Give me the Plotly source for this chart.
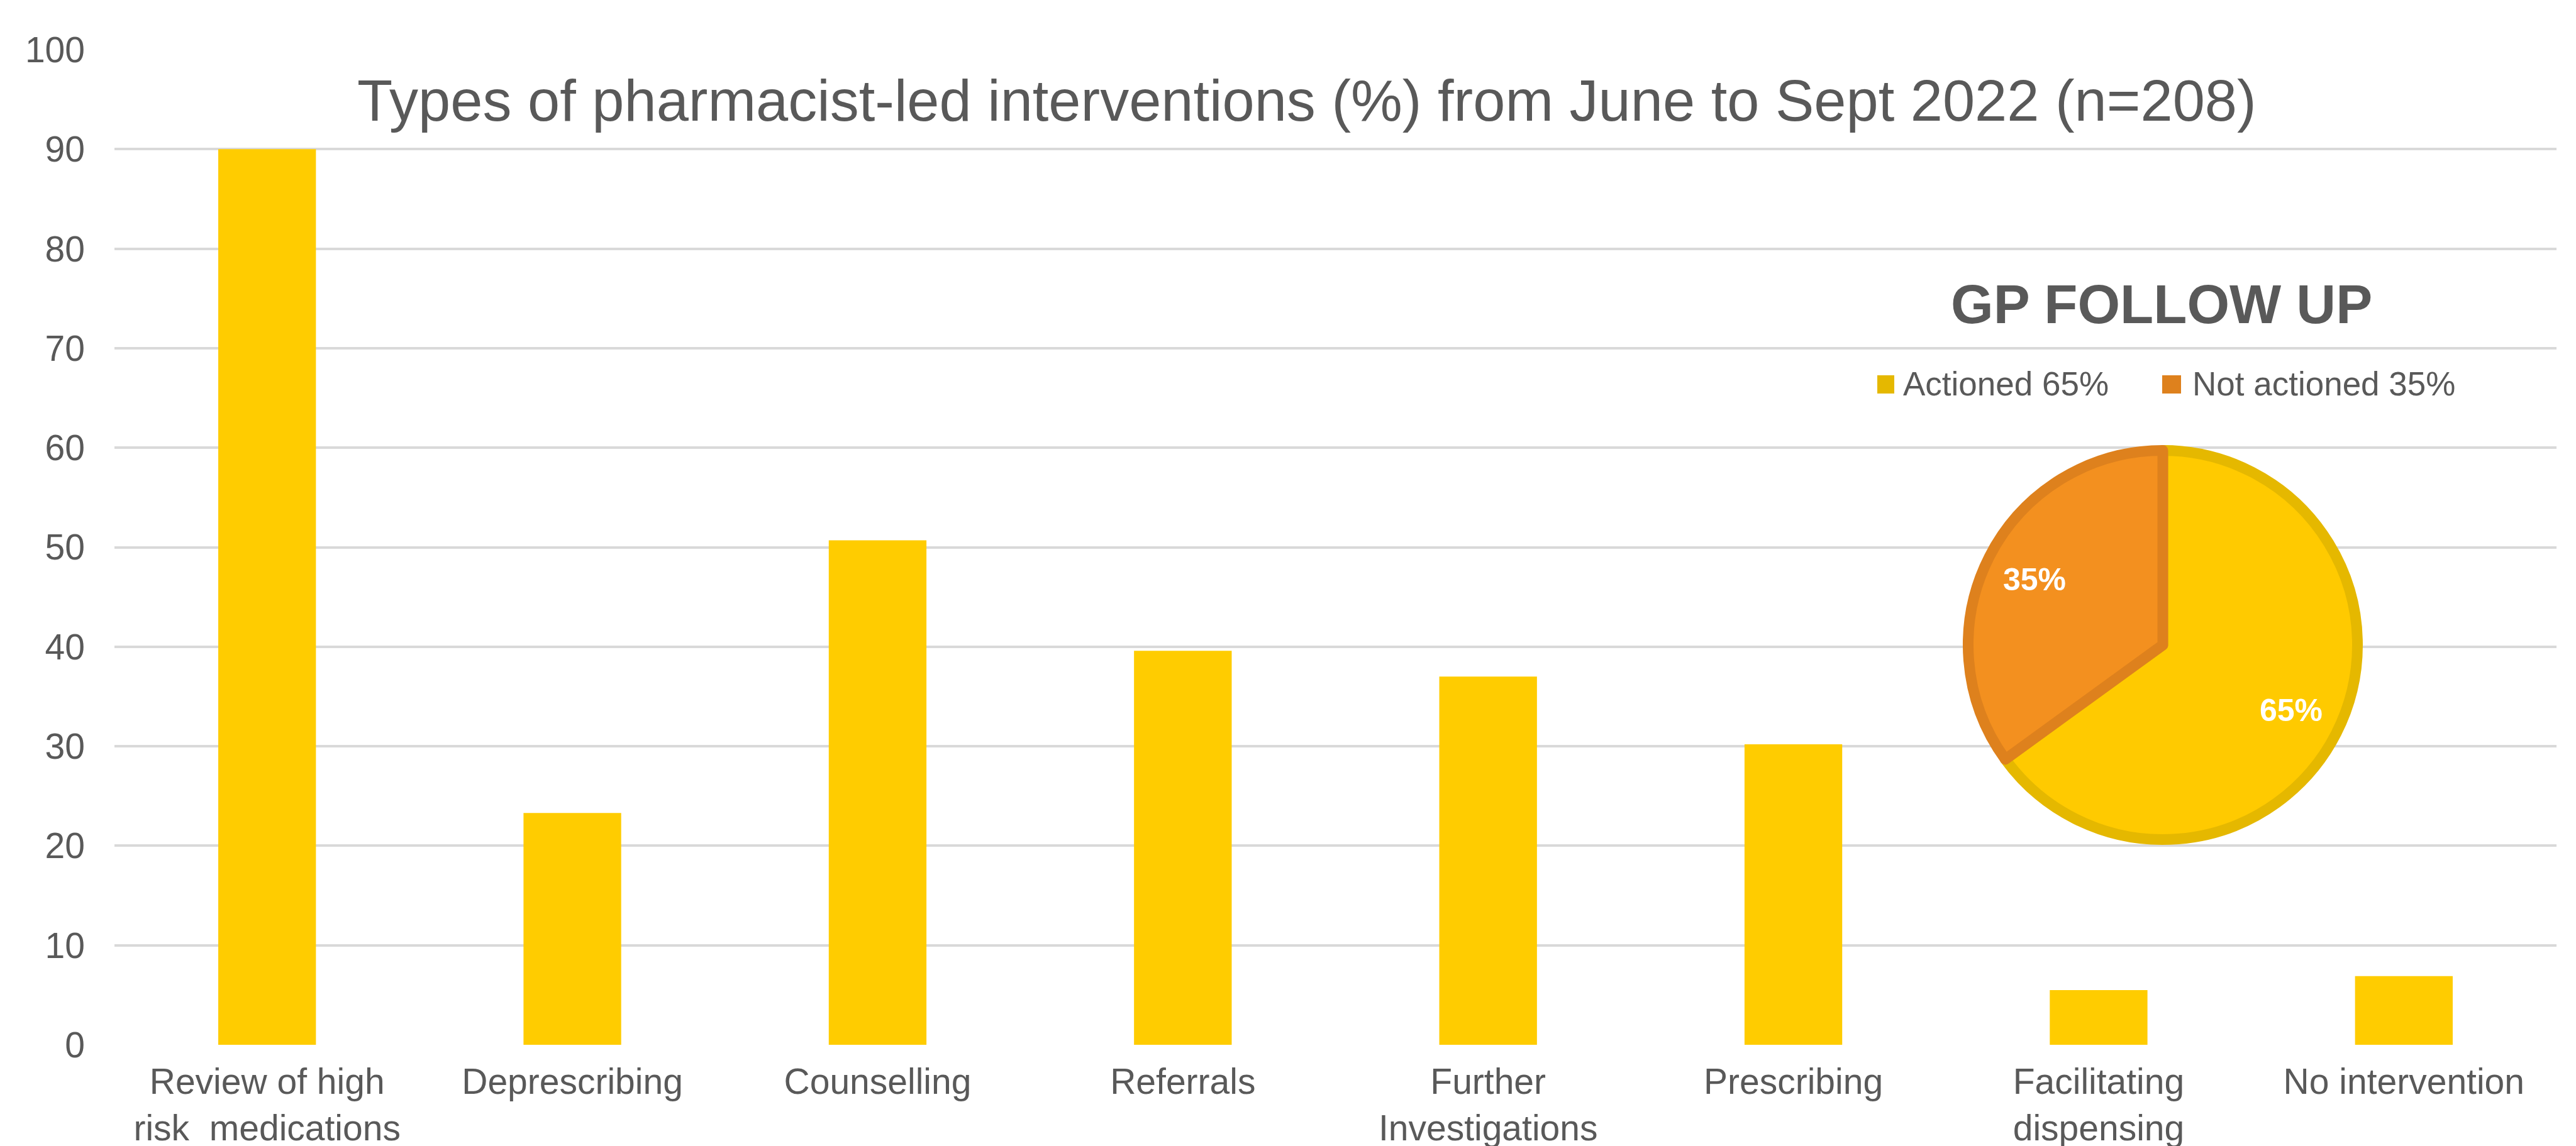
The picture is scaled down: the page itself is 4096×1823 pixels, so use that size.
import math
import plotly.graph_objects as go

# ---------------- data ----------------
categories = ["Review of high risk medications", "Deprescribing", "Counselling", "Referrals",
              "Further Investigations", "Prescribing", "Facilitating dispensing", "No intervention"]
tick_labels = ["Review of high<br>risk  medications", "Deprescribing", "Counselling", "Referrals",
               "Further<br>Investigations", "Prescribing", "Facilitating<br>dispensing", "No intervention"]
percentages = [90.0, 23.3, 50.7, 39.6, 37.0, 30.2, 5.5, 6.9]

pie_labels = ["Actioned", "Not actioned"]
pie_values = [65, 35]

title_text = "Types of pharmacist-led interventions (%) from June to Sept 2022 (n=208)"
pie_title = "GP FOLLOW UP"

# ---------------- layout helpers ----------------
W, H = 4096, 1823
ML, MR, MT, MB = 174, 39, 71, 169
PW, PH = W - ML - MR, H - MT - MB


def px2x(px):
    return (px - ML) / PW


def py2y(py):
    return (H - MB - py) / PH


FONT = "Liberation Sans, Arial, sans-serif"
TXT = "#595959"

fig = go.Figure()

fig.add_trace(go.Bar(
    x=categories, y=percentages,
    marker=dict(color="#FFCC00", line=dict(width=0)),
    showlegend=False, hoverinfo="x+y",
))

# pie geometry
cx, cy, r_out, lw = 3431, 1018, 318, 17
r = r_out - lw / 2
fig.add_trace(go.Pie(
    labels=pie_labels, values=pie_values,
    sort=False, direction="clockwise", rotation=0,
    marker=dict(colors=["#FFCA00", "#F3901F"], line=dict(color=["#E5B800", "#DE811D"], width=lw)),
    textinfo="none",
    domain=dict(x=[px2x(cx - r), px2x(cx + r)], y=[py2y(cy + r), py2y(cy - r)]),
    showlegend=False,
))

annotations = [
    dict(text=title_text, x=px2x(2070), y=py2y(152), xref="paper", yref="paper",
         xanchor="center", yanchor="middle", showarrow=False,
         font=dict(family=FONT, size=92, color=TXT)),
    dict(text="<b>" + pie_title + "</b>", x=px2x(3429), y=py2y(475), xref="paper", yref="paper",
         xanchor="center", yanchor="middle", showarrow=False,
         font=dict(family=FONT, size=87, color=TXT)),
]

# pie percentage labels placed along each slice's bisector
total = sum(pie_values)
cum = 0.0
for v in pie_values:
    mid = (cum + v / 2) / total * 2 * math.pi  # clockwise from 12 o'clock
    cum += v
    lx = cx + 0.72 * r_out * math.sin(mid)
    ly = cy - 0.72 * r_out * math.cos(mid)
    annotations.append(dict(text=f"<b>{round(v / total * 100)}%</b>", x=px2x(lx), y=py2y(ly),
                            xref="paper", yref="paper", xanchor="center", yanchor="middle",
                            showarrow=False, font=dict(family=FONT, size=50, color="white")))

# manual legend for pie
legend_swatch_colors = ["#E5B800", "#DE811D"]
legend_x = [(2977, 3004, 3016), (3430, 3460, 3476)]
shapes = []
for (x0, x1, tx), lab, val, col in zip(legend_x, pie_labels, pie_values, legend_swatch_colors):
    shapes.append(dict(type="rect", xref="paper", yref="paper",
                       x0=px2x(x0), x1=px2x(x1), y0=py2y(618), y1=py2y(589),
                       fillcolor=col, line=dict(width=0)))
    annotations.append(dict(text=f"{lab} {val}%", x=px2x(tx), y=py2y(603), xref="paper", yref="paper",
                            xanchor="left", yanchor="middle", showarrow=False,
                            font=dict(family=FONT, size=53, color=TXT)))

fig.update_layout(
    width=W, height=H,
    margin=dict(l=ML, r=MR, t=MT, b=MB, pad=0, autoexpand=False),
    paper_bgcolor="white", plot_bgcolor="white",
    bargap=0.68,
    annotations=annotations, shapes=shapes,
    font=dict(family=FONT, color=TXT),
    xaxis=dict(
        tickmode="array", tickvals=categories, ticktext=tick_labels,
        tickfont=dict(family=FONT, size=57, color=TXT),
        showgrid=False, showline=False, zeroline=False, ticks="",
        ticklabelstandoff=20, automargin=False,
    ),
    yaxis=dict(
        range=[0, 100], dtick=10, tick0=0,
        tickfont=dict(family=FONT, size=57, color=TXT),
        showgrid=True, gridcolor="#D9D9D9", gridwidth=4,
        zeroline=False, showline=False, ticks="",
        ticklabelstandoff=46, automargin=False,
    ),
)

fig.write_html("out.html")
